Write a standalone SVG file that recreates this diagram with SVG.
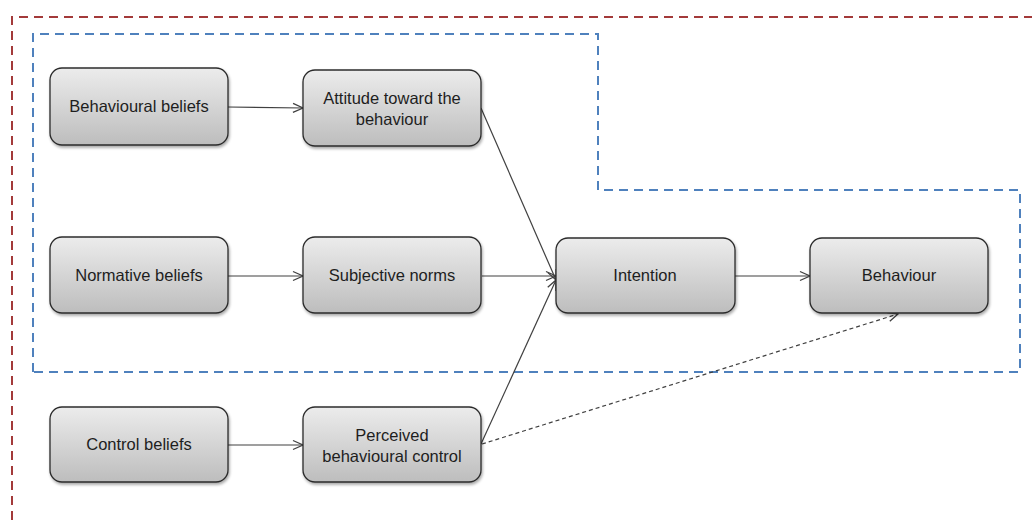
<svg xmlns="http://www.w3.org/2000/svg" width="1032" height="520" viewBox="0 0 1032 520">
  <defs>
    <linearGradient id="boxFill" x1="0" y1="0" x2="0" y2="1">
      <stop offset="0" stop-color="#ececec"/>
      <stop offset="1" stop-color="#bdbdbd"/>
    </linearGradient>
    <filter id="shadow" x="-10%" y="-10%" width="130%" height="140%">
      <feGaussianBlur in="SourceAlpha" stdDeviation="1.5"/>
      <feOffset dx="1" dy="2" result="b"/>
      <feComponentTransfer><feFuncA type="linear" slope="0.35"/></feComponentTransfer>
      <feMerge><feMergeNode/><feMergeNode in="SourceGraphic"/></feMerge>
    </filter>
    <marker id="open" viewBox="0 0 12 12" refX="11" refY="6" markerWidth="12" markerHeight="12" markerUnits="userSpaceOnUse" orient="auto">
      <path d="M1,1.5 L11,6 L1,10.5" fill="none" stroke="#404040" stroke-width="1.3"/>
    </marker>
  </defs>
  <style>
    .box { fill: url(#boxFill); stroke: #2b2b2b; stroke-width: 1.3; filter: url(#shadow); }
    .lbl { font-family: "Liberation Sans", Arial, sans-serif; font-size: 16.5px; fill: #1e1e1e; text-anchor: middle; }
    .conn { fill: none; stroke: #404040; stroke-width: 1.2; marker-end: url(#open); }
    .dash { stroke-dasharray: 4 3; }
    .outer { fill: none; stroke: #a33a3a; stroke-width: 2; stroke-dasharray: 9 6; }
    .inner { fill: none; stroke: #4f81bd; stroke-width: 2; stroke-dasharray: 9 6; }
  </style>

  <!-- boundary regions -->
  <path class="outer" d="M12,520 L12,17 L1040,17"/>
  <path class="inner" d="M33,372 L33,34 L598,34 L598,190 L1020,190 L1020,372 Z"/>

  <!-- connectors -->
  <g id="connectors">
    <line class="conn" x1="228" y1="107" x2="303" y2="108"/>
    <line class="conn" x1="228" y1="276" x2="303" y2="276"/>
    <line class="conn" x1="228" y1="445" x2="303" y2="445"/>
    <line class="conn" x1="481" y1="108" x2="556" y2="280"/>
    <line class="conn" x1="482" y1="276" x2="556" y2="276"/>
    <line class="conn" x1="481" y1="444" x2="556" y2="280"/>
    <line class="conn" x1="735" y1="276" x2="810" y2="276"/>
    <line class="conn dash" x1="482" y1="444" x2="898" y2="314"/>
  </g>

  <g id="behavioural-beliefs">
    <rect class="box" x="50" y="68" width="178" height="77" rx="12"/>
    <text class="lbl" x="139" y="112">Behavioural beliefs</text>
  </g>
  <g id="attitude">
    <rect class="box" x="303" y="70" width="178" height="76" rx="12"/>
    <text class="lbl" x="392" y="104">Attitude toward the</text>
    <text class="lbl" x="392" y="125">behaviour</text>
  </g>
  <g id="normative-beliefs">
    <rect class="box" x="50" y="237" width="178" height="76" rx="12"/>
    <text class="lbl" x="139" y="281">Normative beliefs</text>
  </g>
  <g id="subjective-norms">
    <rect class="box" x="303" y="237" width="178" height="76" rx="12"/>
    <text class="lbl" x="392" y="281">Subjective norms</text>
  </g>
  <g id="intention">
    <rect class="box" x="556" y="238" width="179" height="75" rx="12"/>
    <text class="lbl" x="645" y="281">Intention</text>
  </g>
  <g id="behaviour">
    <rect class="box" x="810" y="238" width="178" height="75" rx="12"/>
    <text class="lbl" x="899" y="281">Behaviour</text>
  </g>
  <g id="control-beliefs">
    <rect class="box" x="50" y="407" width="178" height="75" rx="12"/>
    <text class="lbl" x="139" y="450">Control beliefs</text>
  </g>
  <g id="perceived-control">
    <rect class="box" x="303" y="407" width="178" height="75" rx="12"/>
    <text class="lbl" x="392" y="441">Perceived</text>
    <text class="lbl" x="392" y="462">behavioural control</text>
  </g>
</svg>
